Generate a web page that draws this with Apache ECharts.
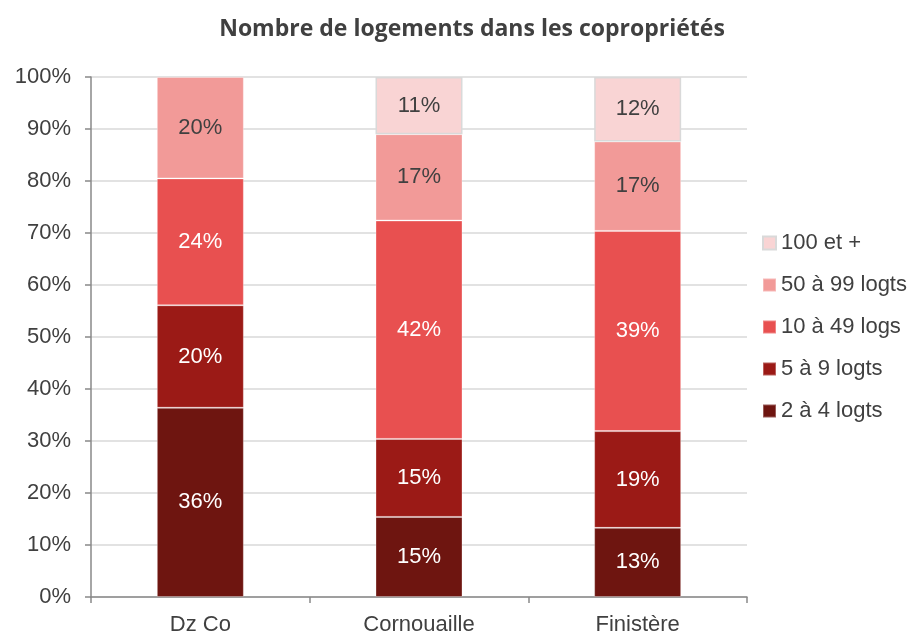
<!DOCTYPE html>
<html>
<head>
<meta charset="utf-8">
<script src="https://cdn.jsdelivr.net/npm/echarts@6/dist/echarts.min.js"></script>
<style>
  html, body { margin: 0; padding: 0; background: #fff; }
  #main { width: 920px; height: 634px; }
</style>
</head>
<body>
<div id="main"></div>
<script>
// données (en %)
var categories = ['Dz Co', 'Cornouaille', 'Finistère'];
var seriesNames = ['2 à 4 logts', '5 à 9 logts', '10 à 49 logs', '50 à 99 logts', '100 et +'];
var v2a4 = [36.4, 15.4, 13.3];
var v5a9 = [19.7, 15.0, 18.6];
var v10a49 = [24.4, 42.0, 38.5];
var v50a99 = [19.5, 16.6, 17.2];
var v100 = [0, 11.0, 12.4];
var yTicks = [0, 10, 20, 30, 40, 50, 60, 70, 80, 90, 100];

var colors = ['#6e1510', '#9b1a16', '#e85050', '#f29a98', '#f9d4d4'];
var labelColors = ['#ffffff', '#ffffff', '#ffffff', '#404040', '#404040'];
var values = [v2a4, v5a9, v10a49, v50a99, v100];
var font = 'Liberation Sans, Arial, sans-serif';

var myChart = echarts.init(document.getElementById('main'));

var series = seriesNames.map(function (name, i) {
    return {
        name: name,
        type: 'bar',
        stack: 'total',
        barWidth: 87,
        data: values[i].map(function (v) { return v === 0 ? null : v; }),
        itemStyle: {
            color: colors[i],
            borderColor: i === 4 ? '#d9d9d9' : 'rgba(255,255,255,0.3)',
            borderWidth: i === 4 ? 1.5 : 1
        },
        label: {
            show: true,
            position: 'inside',
            color: labelColors[i],
            fontSize: 22,
            fontFamily: font,
            formatter: function (p) { return Math.round(p.value) + '%'; }
        }
    };
});

var option = {
    animation: false,
    title: {
        text: 'Nombre de logements dans les copropriétés',
        left: 467,
        textAlign: 'center',
        top: 13,
        textStyle: {
            fontFamily: 'Open Sans',
            fontWeight: 'bold',
            fontSize: 23,
            color: '#404040'
        }
    },
    legend: {
        orient: 'vertical',
        left: 757,
        top: 227,
        icon: 'rect',
        itemWidth: 13,
        itemHeight: 13,
        itemGap: 20,
        data: seriesNames.slice().reverse(),
        textStyle: {
            fontSize: 22,
            color: '#404040',
            fontFamily: font
        }
    },
    grid: { left: 91, right: 173, top: 77, bottom: 37, containLabel: false, outerBoundsMode: 'none' },
    xAxis: {
        type: 'category',
        data: categories,
        axisLine: { lineStyle: { color: '#898989', width: 1.5 } },
        axisTick: { show: true, length: 6, lineStyle: { color: '#898989', width: 1.5 } },
        axisLabel: {
            fontSize: 22,
            color: '#404040',
            margin: 17,
            fontFamily: font
        }
    },
    yAxis: {
        type: 'value',
        min: yTicks[0],
        max: yTicks[yTicks.length - 1],
        interval: 10,
        axisLine: { show: true, lineStyle: { color: '#898989', width: 1.5 } },
        axisTick: { show: true, length: 6, lineStyle: { color: '#898989', width: 1.5 } },
        splitLine: { lineStyle: { color: '#d9d9d9', width: 1.5 } },
        axisLabel: {
            fontSize: 22,
            color: '#404040',
            margin: 20,
            fontFamily: font,
            formatter: '{value}%'
        }
    },
    series: series
};

myChart.setOption(option);
</script>
</body>
</html>
